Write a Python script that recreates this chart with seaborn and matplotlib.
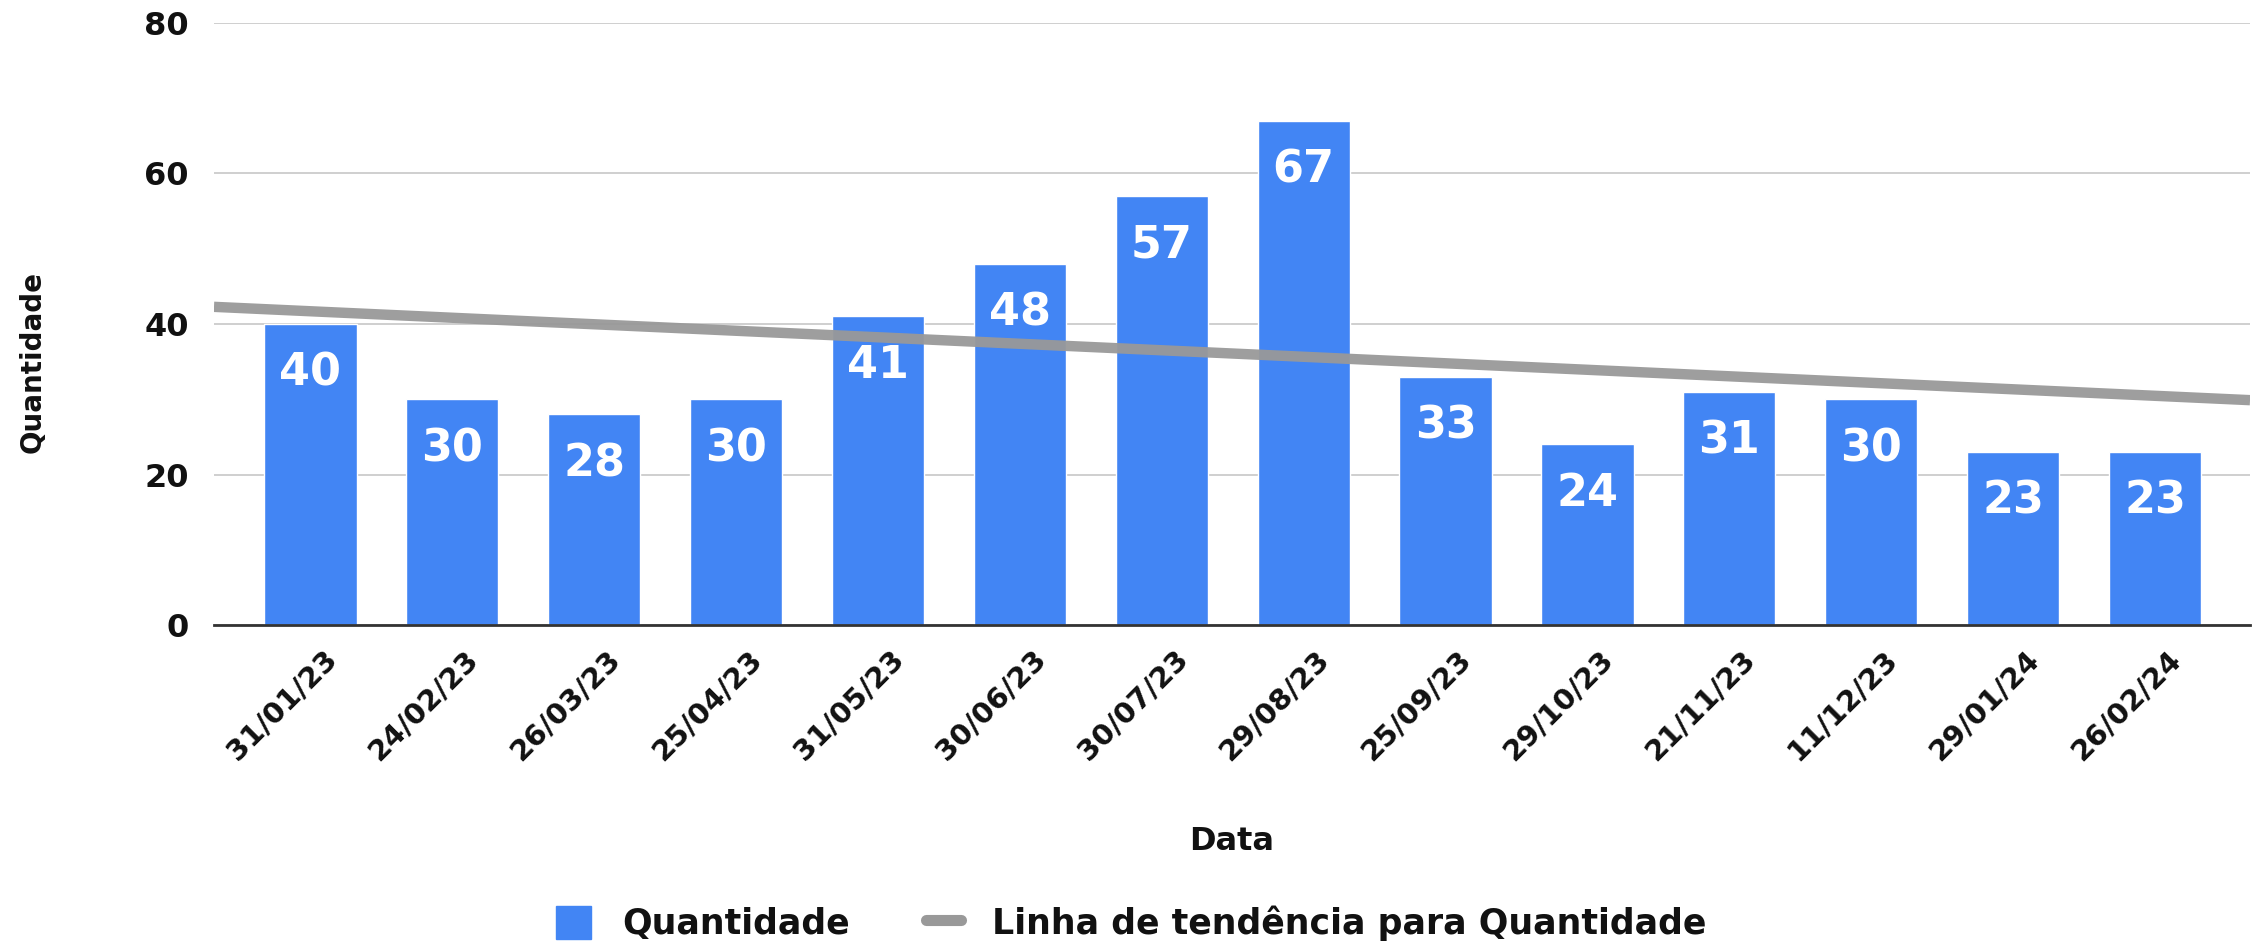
import pandas as pd
import seaborn as sns
import matplotlib.pyplot as plt
import matplotlib.transforms as mtransforms
import numpy as np
from matplotlib.patches import Patch
from matplotlib.lines import Line2D

datas = ['31/01/23', '24/02/23', '26/03/23', '25/04/23', '31/05/23', '30/06/23', '30/07/23',
         '29/08/23', '25/09/23', '29/10/23', '21/11/23', '11/12/23', '29/01/24', '26/02/24']
quantidade = [40, 30, 28, 30, 41, 48, 57, 67, 33, 24, 31, 30, 23, 23]
yticks = [0, 20, 40, 60, 80]

df = pd.DataFrame({'Data': datas, 'Quantidade': quantidade})

sns.set_theme(style="white")
plt.rcParams['font.family'] = ['DejaVu Sans']
plt.rcParams['font.weight'] = 'bold'
plt.rcParams['text.color'] = '#111111'
plt.rcParams['xtick.color'] = '#111111'
plt.rcParams['ytick.color'] = '#111111'
plt.rcParams['axes.labelcolor'] = '#111111'

azul = '#4285F4'
cinza = '#999999'

fig = plt.figure(figsize=(22.62, 9.5), dpi=100)
ax = fig.add_axes([0.0946, 0.342, 0.9001, 0.634])

sns.barplot(data=df, x='Data', y='Quantidade', color=azul, width=0.65, saturation=1, ax=ax, zorder=2)

# linha de tendencia (regressao linear sobre o indice)
xi = np.arange(len(quantidade))
a, b = np.polyfit(xi, quantidade, 1)
xlim = (-0.68, len(quantidade) - 1 + 0.67)
xx = np.array(xlim)
ax.plot(xx, a * xx + b, color=cinza, lw=7.5, alpha=0.95, zorder=3, solid_capstyle='butt')

for i, v in enumerate(quantidade):
    ax.annotate(str(v), (i, v), xytext=(0, -20), textcoords='offset points',
                ha='center', va='top', color='white', fontsize=32, fontweight='bold', zorder=4)

ax.set_xlim(xlim)
ax.set_ylim(0, 80)
ax.set_yticks(yticks)
ax.yaxis.grid(True, color='#cccccc', lw=1.3, zorder=0)
ax.set_axisbelow(True)
for s in ['top', 'right', 'left']:
    ax.spines[s].set_visible(False)
ax.spines['bottom'].set_color('#333333')
ax.spines['bottom'].set_linewidth(2)
ax.spines['bottom'].set_zorder(5)

ax.tick_params(axis='y', length=0, pad=18, labelsize=23)
ax.tick_params(axis='x', length=0, pad=14, labelsize=21)
plt.setp(ax.get_xticklabels(), rotation=45, ha='right', rotation_mode='anchor', fontweight='bold')
plt.setp(ax.get_yticklabels(), fontweight='bold')
offset = mtransforms.ScaledTranslation(0.12, 0, fig.dpi_scale_trans)
for lbl in ax.get_xticklabels():
    lbl.set_transform(lbl.get_transform() + offset)

ax.set_xlabel('Data', fontsize=23, fontweight='bold')
ax.set_ylabel('Quantidade', fontsize=20, fontweight='bold')
ax.xaxis.set_label_coords(0.5, -0.359)
ax.xaxis.label.set_va('center')
ax.yaxis.set_label_coords(-0.089, 0.437)
ax.yaxis.label.set_va('center')

handles = [Patch(facecolor=azul, edgecolor=azul),
           Line2D([0], [0], color=cinza, lw=8)]
fig.legend(handles, ['Quantidade', 'Linha de tendência para Quantidade'],
           loc='center', bbox_to_anchor=(0.5, 0.028), ncol=2, frameon=False,
           prop={'size': 25, 'weight': 'bold'}, handlelength=1.0, handleheight=1.1,
           columnspacing=2.2, handletextpad=0.9)

plt.savefig('out.png', dpi=100)
